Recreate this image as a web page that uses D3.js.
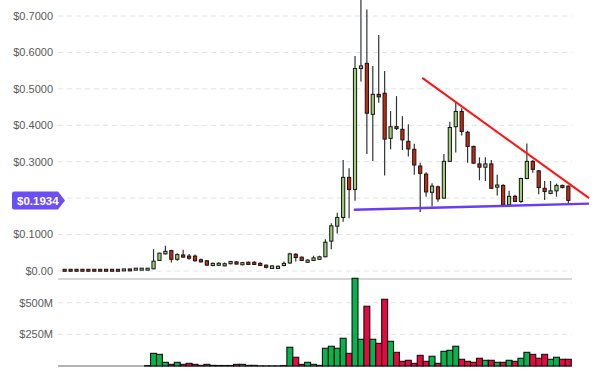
<!DOCTYPE html>
<html><head><meta charset="utf-8">
<script src="https://cdn.jsdelivr.net/npm/d3@7"></script>
<style>body{margin:0;background:#fff}svg{display:block}</style>
</head><body>
<svg id="c" width="613" height="372"></svg>
<script>
const opens = [0.003,0.003,0.003,0.003,0.003,0.003,0.003,0.003,0.003,0.003,0.002,0.004,0.004,0.004,0.004,
0.006,0.029,0.047,0.056,0.032,0.044,0.041,0.041,0.031,0.028,0.015,0.016,0.014,0.020,0.025,
0.017,0.024,0.024,0.021,0.016,0.007,0.007,0.015,0.022,0.046,0.038,0.024,0.029,0.032,0.039,
0.082,0.123,0.147,0.257,0.224,0.556,0.570,0.430,0.485,0.488,0.364,0.396,0.389,0.356,0.334,
0.288,0.266,0.216,0.231,0.200,0.301,0.396,0.438,0.381,0.342,0.294,0.285,0.294,0.230,0.235,
0.182,0.205,0.191,0.254,0.301,0.275,0.227,0.213,0.220,0.235,0.233];
const closes = [0.001,0.001,0.001,0.001,0.001,0.001,0.001,0.001,0.001,0.001,0.004,0.002,0.006,0.006,0.006,
0.027,0.049,0.054,0.032,0.045,0.038,0.035,0.028,0.025,0.016,0.021,0.021,0.020,0.026,0.019,
0.023,0.018,0.018,0.015,0.010,0.014,0.013,0.021,0.047,0.037,0.029,0.030,0.036,0.039,0.079,
0.124,0.147,0.257,0.224,0.556,0.563,0.433,0.485,0.478,0.362,0.396,0.391,0.360,0.335,0.291,
0.268,0.217,0.233,0.198,0.301,0.394,0.438,0.383,0.342,0.296,0.285,0.294,0.227,0.236,0.182,
0.205,0.191,0.254,0.301,0.279,0.229,0.218,0.220,0.235,0.229,0.194];
const highs = [0.003,0.003,0.003,0.003,0.003,0.003,0.003,0.003,0.003,0.003,0.004,0.004,0.007,0.007,0.007,
0.060,0.050,0.069,0.058,0.049,0.058,0.047,0.045,0.034,0.030,0.023,0.024,0.023,0.028,0.027,
0.025,0.026,0.027,0.024,0.018,0.016,0.015,0.026,0.050,0.049,0.040,0.032,0.042,0.042,0.087,
0.131,0.160,0.305,0.282,0.590,0.745,0.718,0.563,0.648,0.549,0.439,0.480,0.425,0.403,0.349,
0.297,0.271,0.241,0.235,0.321,0.410,0.462,0.447,0.385,0.344,0.312,0.312,0.305,0.264,0.238,
0.220,0.209,0.256,0.350,0.305,0.277,0.247,0.247,0.240,0.237,0.235];
const lows = [0.001,0.001,0.001,0.001,0.001,0.001,0.001,0.001,0.001,0.001,0.002,0.002,0.004,0.004,0.004,
0.005,0.028,0.045,0.023,0.028,0.037,0.031,0.026,0.023,0.015,0.013,0.014,0.013,0.018,0.018,
0.016,0.017,0.017,0.014,0.007,0.007,0.007,0.013,0.020,0.026,0.028,0.022,0.028,0.031,0.038,
0.060,0.103,0.135,0.145,0.193,0.520,0.321,0.302,0.462,0.262,0.334,0.387,0.332,0.314,0.264,
0.162,0.204,0.177,0.190,0.199,0.327,0.325,0.372,0.297,0.294,0.249,0.247,0.225,0.207,0.180,
0.176,0.190,0.187,0.252,0.270,0.211,0.195,0.211,0.204,0.227,0.187];
const volumes = [0,0,0,0,0,0,0,0,0,0,0,0,0,0,3,
100,92,29,13,29,13,21,13,5,13,5,4,4,4,13,
13,5,5,1,1,1,1,4,148,69,13,29,13,5,140,
156,140,219,100,693,211,472,211,179,527,195,108,37,45,21,
84,37,77,21,116,124,156,53,37,29,61,45,45,29,29,
45,37,61,108,92,61,92,53,69,53,53];

const priceTicks = [0, 0.1, 0.3, 0.4, 0.5, 0.6, 0.7];
const priceTickLabels = ["$0.00", "$0.1000", "$0.3000", "$0.4000", "$0.5000", "$0.6000", "$0.7000"];
const priceGrid = [0, 0.1, 0.2, 0.3, 0.4, 0.5, 0.6, 0.7];
const volTicks = [250, 500];
const volTickLabels = ["$250M", "$500M"];
const lastPrice = 0.1934;
const lastPriceLabel = "$0.1934";
// trend lines: [candle index position, price]
const resistanceLine = [[60.35, 0.530], [88.5, 0.200]];
const supportLine = [[48.8, 0.168], [88.5, 0.185]];

const svg = d3.select("#c");
const n = opens.length;
const x = d3.scaleLinear().domain([0, n]).range([61.7, 571.3]);
const y = d3.scaleLinear().domain([0, 0.7]).range([271, 16]);
const yv = d3.scaleLinear().domain([0, 500]).range([366, 302.7]);
const left = 58, right = 572;
const font = "'Liberation Sans', Arial, sans-serif";

// price grid
svg.append("g").selectAll("line").data(priceGrid).join("line")
  .attr("x1", left).attr("x2", right)
  .attr("y1", d => y(d)).attr("y2", d => y(d))
  .attr("stroke", "#e1e1ea").attr("stroke-dasharray", "5,4");
svg.append("g").selectAll("text").data(priceTicks).join("text")
  .attr("x", 53).attr("y", d => y(d)).attr("dy", "0.35em")
  .attr("text-anchor", "end").attr("font-family", font).attr("font-size", 11)
  .attr("fill", "#5a5a5a").text((d, i) => priceTickLabels[i]);

// volume grid
svg.append("g").selectAll("line").data(volTicks).join("line")
  .attr("x1", left).attr("x2", right)
  .attr("y1", d => yv(d)).attr("y2", d => yv(d))
  .attr("stroke", "#e1e1ea").attr("stroke-dasharray", "5,4");
svg.append("g").selectAll("text").data(volTicks).join("text")
  .attr("x", 53).attr("y", d => yv(d)).attr("dy", "0.35em")
  .attr("text-anchor", "end").attr("font-family", font).attr("font-size", 11)
  .attr("fill", "#5a5a5a").text((d, i) => volTickLabels[i]);

// panel separators
svg.append("line").attr("x1", left).attr("x2", right).attr("y1", 279).attr("y2", 279)
  .attr("stroke", "#c8c8c8").attr("stroke-width", 1.5);
svg.append("line").attr("x1", left).attr("x2", right).attr("y1", yv(0)).attr("y2", yv(0))
  .attr("stroke", "#9a9a9a").attr("stroke-width", 1.5);

const idx = d3.range(n);
const up = i => closes[i] >= opens[i];

// volume bars
svg.append("g").selectAll("rect").data(idx.filter(i => volumes[i] > 0)).join("rect")
  .attr("x", i => x(i)).attr("width", x(1) - x(0))
  .attr("y", i => yv(volumes[i])).attr("height", i => yv(0) - yv(volumes[i]))
  .attr("fill", i => up(i) ? "#05b44c" : "#e8073f")
  .attr("stroke", "#111").attr("stroke-width", 1.1);

// candles
const cg = svg.append("g");
cg.selectAll("line").data(idx).join("line")
  .attr("x1", i => x(i + 0.5)).attr("x2", i => x(i + 0.5))
  .attr("y1", i => y(highs[i])).attr("y2", i => y(lows[i]))
  .attr("stroke", "#2f3535").attr("stroke-width", 1.2);
cg.selectAll("rect").data(idx).join("rect")
  .attr("x", i => x(i + 0.5) - 1.6).attr("width", 3.2)
  .attr("y", i => {
    const t = y(Math.max(opens[i], closes[i])), b = y(Math.min(opens[i], closes[i]));
    return b - t < 2 ? (t + b) / 2 - 1 : t;
  })
  .attr("height", i => Math.max(2, y(Math.min(opens[i], closes[i])) - y(Math.max(opens[i], closes[i]))))
  .attr("fill", i => up(i) ? "#9ccf76" : "#c8290e")
  .attr("stroke", "#151515").attr("stroke-width", 1);

// trend lines
const line = d3.line().x(d => x(d[0] + 0.5)).y(d => y(d[1]));
svg.append("path").attr("d", line(supportLine)).attr("fill", "none")
  .attr("stroke", "#6a3df5").attr("stroke-width", 2.4);
svg.append("path").attr("d", line(resistanceLine)).attr("fill", "none")
  .attr("stroke", "#ff1414").attr("stroke-width", 2);

// last price badge
const by = y(lastPrice);
svg.append("path")
  .attr("d", `M14,${by - 9} L58,${by - 9} L65,${by} L58,${by + 9} L14,${by + 9} Q12,${by + 9} 12,${by + 7} L12,${by - 7} Q12,${by - 9} 14,${by - 9} Z`)
  .attr("fill", "#6b4ef6");
svg.append("text").attr("x", 17).attr("y", by).attr("dy", "0.36em")
  .attr("font-family", font).attr("font-size", 11.5).attr("font-weight", "bold")
  .attr("fill", "#fff").text(lastPriceLabel);
</script>
</body></html>
